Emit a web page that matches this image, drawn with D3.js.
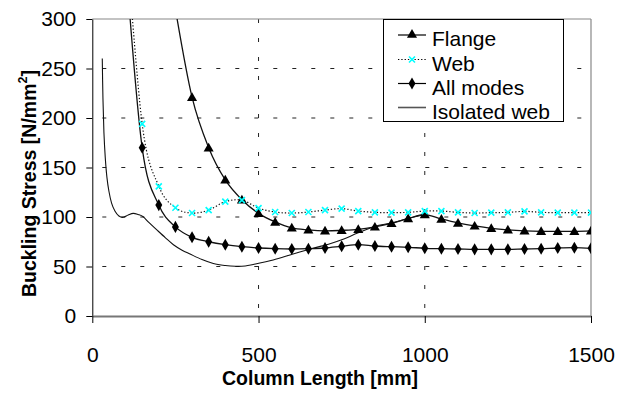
<!DOCTYPE html>
<html><head><meta charset="utf-8">
<script src="https://cdn.jsdelivr.net/npm/d3@7"></script>
<style>
body{margin:0;background:#fff;}
svg{display:block;font-family:"Liberation Sans",Arial,sans-serif;}
</style></head>
<body>
<svg id="chart" width="631" height="396"></svg>
<script>
// ---- data ----
const xTicks = [0, 500, 1000, 1500];
const yTicks = [0, 50, 100, 150, 200, 250, 300];

const flangeX = [250,300,350,400,450,500,550,600,650,700,750,800,850,900,950,1000,1050,1100,1150,1200,1250,1300,1350,1400,1450,1500];
const flangeY = [310,221,170,137.5,117.5,103.7,95,89,87,86,86.5,87.5,90,93.6,98.5,102.5,98,94,91,88.6,87,86,85.5,85.5,85.5,86];

const webX = [100,150,200,250,300,350,400,450,500,550,600,650,700,750,800,850,900,950,1000,1050,1100,1150,1200,1250,1300,1350,1400,1450,1500];
const webY = [390,194,131,109.4,104,107,115.5,117,109,105,104,105,107,108.4,106,104.7,104.4,104.7,106,106,104.7,104,104.4,104.7,105.7,104.7,104.4,104.4,104.4];

const allX = [100,150,200,250,300,350,400,450,500,550,600,650,700,750,800,850,900,950,1000,1050,1100,1150,1200,1250,1300,1350,1400,1450,1500];
const allY = [360,170,112,90,79.5,75,72,70,68.7,68,67.7,68,68.7,70.4,72,70.7,70,69.4,68.4,68,67.7,67.3,67.3,67.3,67.7,68,68.7,69,68.4];

const isoX = [30,32,35,39,44,50,58,68,80,93,108,123,138,153,170,194,220,244,270,294,330,364,400,430,460,484,544,604,664,715,750,800,850,900,950,1000];
const isoY = [260,220,185,160,140,126,114,106,101,99.7,102,103.7,102.5,100.3,94.5,87,79,72,66.5,62.6,57,53,51,50.2,50.5,52,56.6,62.6,68.4,73,77,84,90.5,94,98.5,102.5];

const seriesNames = ["Flange", "Web", "All modes", "Isolated web"];

// ---- layout ----
const svg = d3.select("#chart");
const L = 92.3, R = 591, T = 19, B = 316;
const x = d3.scaleLinear().domain([0, 1500]).range([L, R]);
const y = d3.scaleLinear().domain([0, 300]).range([B, T]);

svg.append("defs").append("clipPath").attr("id", "clip")
  .append("rect").attr("x", L).attr("y", T).attr("width", R - L).attr("height", B - T);

// gridlines
svg.append("g").selectAll("line").data(yTicks.filter(d => d > 0 && d < 300)).join("line")
  .attr("x1", L).attr("x2", R).attr("y1", d => y(d)).attr("y2", d => y(d))
  .attr("stroke", "#222").attr("stroke-width", 1).attr("stroke-dasharray", "4,15")
  .attr("stroke-dashoffset", -10);
svg.append("g").selectAll("line").data(xTicks.filter(d => d > 0 && d < 1500)).join("line")
  .attr("x1", d => x(d)).attr("x2", d => x(d)).attr("y1", T).attr("y2", B)
  .attr("stroke", "#222").attr("stroke-width", 1).attr("stroke-dasharray", "4,15");

// plot border (top/right gray)
svg.append("line").attr("x1", L).attr("x2", R).attr("y1", T).attr("y2", T).attr("stroke", "#888").attr("stroke-width", 1.2);
svg.append("line").attr("x1", R).attr("x2", R).attr("y1", T).attr("y2", B).attr("stroke", "#888").attr("stroke-width", 1.2);

// axes
const yAxis = d3.axisLeft(y).tickValues(yTicks).tickFormat(d3.format("d")).tickSize(6).tickPadding(10).tickSizeOuter(0);
const gy = svg.append("g").attr("transform", `translate(${L},0)`).call(yAxis);
gy.select(".domain").attr("stroke", "#000");
gy.selectAll(".tick line").attr("stroke", "#000");
gy.selectAll("text").attr("font-size", 21).attr("fill", "#000")
  .attr("font-family", "'Liberation Sans',Arial,sans-serif");

const xAxis = d3.axisBottom(x).tickValues(xTicks).tickFormat(d3.format("d")).tickSize(7).tickPadding(24).tickSizeOuter(0);
const gx = svg.append("g").attr("transform", `translate(0,${B})`).call(xAxis);
gx.select(".domain").attr("stroke", "#777").attr("stroke-width", 2);
gx.selectAll(".tick line").attr("stroke", "#000");
gx.selectAll("text").attr("font-size", 21).attr("fill", "#000")
  .attr("font-family", "'Liberation Sans',Arial,sans-serif");

// axis titles
svg.append("text").attr("x", 320).attr("y", 385).attr("text-anchor", "middle")
  .attr("font-size", 19.5).attr("font-weight", "bold").text("Column Length [mm]");
const yt = svg.append("text").attr("transform", "translate(36,297) rotate(-90)")
  .attr("text-anchor", "start").attr("font-size", 19.5).attr("font-weight", "bold");
yt.append("tspan").text("Buckling Stress [N/mm");
yt.append("tspan").attr("font-size", 12.5).attr("dy", "-9").text("2");
yt.append("tspan").attr("dy", "9").text("]");

// series
const curve = d3.curveCardinal.tension(0);
const line = d3.line().x(d => x(d[0])).y(d => y(d[1])).curve(curve);
const plot = svg.append("g").attr("clip-path", "url(#clip)");

const iso = d3.zip(isoX, isoY);
const flange = d3.zip(flangeX, flangeY);
const web = d3.zip(webX, webY);
const all = d3.zip(allX, allY);

plot.append("path").attr("d", line(iso)).attr("fill", "none").attr("stroke", "#111").attr("stroke-width", 1.1);
plot.append("path").attr("d", line(flange)).attr("fill", "none").attr("stroke", "#111").attr("stroke-width", 1.3);
plot.append("path").attr("d", line(all)).attr("fill", "none").attr("stroke", "#111").attr("stroke-width", 1.3);
plot.append("path").attr("d", line(web)).attr("fill", "none").attr("stroke", "#111").attr("stroke-width", 1.2)
  .attr("stroke-dasharray", "1.3,2");

const tri = d3.symbol().type(d3.symbolTriangle).size(44);
const dia = d3.symbol().type(d3.symbolDiamond).size(42);

function drawTri(g, cx, cy) {
  g.append("path").attr("d", tri()).attr("transform", `translate(${cx},${cy + 0.8})`).attr("fill", "#000");
}
function drawDia(g, cx, cy) {
  g.append("path").attr("d", dia()).attr("transform", `translate(${cx},${cy})`).attr("fill", "#000");
}
function drawX(g, cx, cy) {
  const s = 3;
  g.append("path").attr("d", `M${cx - s},${cy - s}L${cx + s},${cy + s}M${cx - s},${cy + s}L${cx + s},${cy - s}`)
    .attr("stroke", "#00FFFF").attr("stroke-width", 1.6).attr("fill", "none");
}

const mk = plot.append("g");
flange.forEach(d => drawTri(mk, x(d[0]), y(d[1])));
all.forEach(d => drawDia(mk, x(d[0]), y(d[1])));
web.forEach(d => drawX(mk, x(d[0]), y(d[1])));

// legend
const lg = svg.append("g");
lg.append("rect").attr("x", 383.5).attr("y", 19.5).attr("width", 180).attr("height", 102)
  .attr("fill", "#fff").attr("stroke", "#000").attr("stroke-width", 1);
const rowsY = [35, 59.5, 83.5, 107.5];
seriesNames.forEach((name, i) => {
  const ry = rowsY[i];
  const ln = lg.append("line").attr("x1", 398).attr("x2", 426).attr("y1", ry).attr("y2", ry)
    .attr("stroke", i === 3 ? "#555" : "#000").attr("stroke-width", i === 3 ? 1.6 : 1.2);
  if (i === 1) ln.attr("stroke-dasharray", "1.3,2");
  if (i === 0) drawTri(lg, 412, ry - 1);
  if (i === 1) drawX(lg, 412, ry);
  if (i === 2) drawDia(lg, 412, ry);
  lg.append("text").attr("x", 432).attr("y", ry + 11).attr("font-size", 21).text(name);
});
</script>
</body></html>
